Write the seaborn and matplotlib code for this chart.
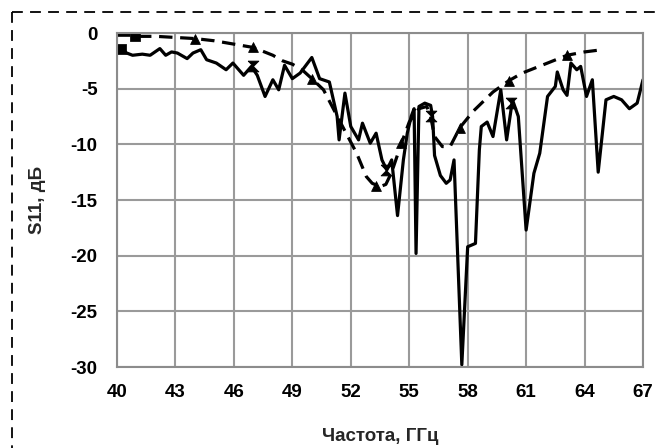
import numpy as np
import pandas as pd
import matplotlib
matplotlib.use("Agg")
import matplotlib.pyplot as plt
from matplotlib.lines import Line2D
import seaborn as sns

# measured curve (solid)
meas_freq = [40.0, 40.2, 40.5, 40.8, 41.3, 41.7, 42.2, 42.5, 42.8, 43.1, 43.6, 43.9,
             44.3, 44.6, 45.1, 45.6, 45.95, 46.5, 46.9, 47.2, 47.6, 48.0, 48.3, 48.6,
             49.0, 49.4, 50.0, 50.4, 50.9, 51.3, 51.4, 51.7, 52.0, 52.4, 52.6, 53.0,
             53.3, 53.6, 53.85, 54.1, 54.4, 54.7, 54.9, 55.1, 55.25, 55.35, 55.5, 55.8,
             56.1, 56.2, 56.3, 56.6, 56.9, 57.1, 57.3, 57.7, 58.0, 58.4, 58.6, 58.7,
             59.0, 59.3, 59.7, 60.0, 60.3, 60.6, 61.0, 61.4, 61.7, 62.1, 62.5, 62.6,
             62.9, 63.1, 63.3, 63.6, 63.8, 64.1, 64.4, 64.7, 65.1, 65.5, 65.9, 66.3,
             66.7, 67.0]
meas_s11 = [-1.5, -1.4, -1.8, -2.0, -1.9, -2.0, -1.4, -2.0, -1.7, -1.8, -2.3, -1.8,
            -1.5, -2.4, -2.7, -3.3, -2.7, -3.8, -3.0, -3.8, -5.7, -4.2, -5.1, -2.9,
            -4.1, -3.6, -2.2, -4.1, -4.4, -7.5, -9.6, -5.4, -8.4, -9.6, -8.1, -9.9,
            -9.0, -11.4, -12.3, -11.4, -16.4, -11.4, -9.0, -7.5, -6.8, -19.8, -6.6, -6.3,
            -6.5, -7.5, -11.0, -12.8, -13.5, -13.2, -11.4, -29.8, -19.2, -18.9, -10.5, -8.4,
            -8.0, -9.3, -5.1, -9.6, -6.0, -7.5, -17.7, -12.6, -10.8, -5.7, -4.8, -3.5,
            -5.1, -5.6, -2.7, -3.3, -3.0, -5.7, -4.2, -12.5, -6.0, -5.7, -6.0, -6.8,
            -6.3, -4.2]

# simulated curve (dashed)
sim_freq = [40.0, 40.7, 41.1, 42.0, 43.0, 44.0, 45.0, 46.0, 47.0, 48.0, 48.5, 49.0,
            49.5, 50.0, 50.6, 51.4, 52.3, 52.8, 53.1, 53.5, 53.8, 54.1, 54.6, 55.0,
            55.5, 55.9, 56.1, 56.3, 56.7, 57.1, 57.6, 58.3, 59.3, 60.1, 60.8, 62.1,
            63.1, 64.0, 64.9]
sim_s11 = [-0.2, -0.2, -0.3, -0.3, -0.4, -0.5, -0.7, -1.0, -1.3, -2.0, -2.5, -2.8,
           -3.3, -4.1, -5.1, -7.8, -10.8, -12.9, -13.5, -13.8, -13.6, -12.5, -9.9, -8.0,
           -6.8, -6.6, -7.5, -9.3, -10.2, -10.2, -8.5, -7.0, -5.3, -4.3, -3.6, -2.7,
           -2.0, -1.7, -1.5]

# marker positions seen on the curves
meas_sq_freq = [40.2]
meas_sq_s11 = [-1.4]
meas_hg_freq = [47.0, 53.8, 56.1, 60.2]
meas_hg_s11 = [-3.0, -12.3, -7.5, -6.3]
sim_sq_freq = [40.9]
sim_sq_s11 = [-0.25]
sim_tri_freq = [44.0, 47.0, 50.0, 53.3, 54.6, 57.6, 60.1, 63.1]
sim_tri_s11 = [-0.5, -1.3, -4.1, -13.7, -9.9, -8.5, -4.3, -2.0]

x_ticks = [40, 43, 46, 49, 52, 55, 58, 61, 64, 67]
y_ticks = [0, -5, -10, -15, -20, -25, -30]

sns.set_theme(style="whitegrid")
plt.rcParams["font.family"] = ["Liberation Sans", "DejaVu Sans"]
plt.rcParams["font.weight"] = "bold"

fig = plt.figure(figsize=(6.59, 4.48), dpi=100)
ax = fig.add_axes([117 / 659, 1 - 367 / 448, (643 - 117) / 659, (367 - 33) / 448])

meas = pd.DataFrame({"freq": meas_freq, "s11": meas_s11})
sim = pd.DataFrame({"freq": sim_freq, "s11": sim_s11})

sns.lineplot(data=sim, x="freq", y="s11", ax=ax, sort=False, color="black",
             linewidth=2.3, dashes=False, linestyle=(0, (4.2, 2.4)))
sns.lineplot(data=meas, x="freq", y="s11", ax=ax, sort=False, color="black",
             linewidth=2.3)

hourglass = [(-1, 1), (1, 1), (-1, -1), (1, -1), (-1, 1)]
sns.scatterplot(x=meas_sq_freq, y=meas_sq_s11, ax=ax, marker="s", s=45, color="black",
                edgecolor="black")
sns.scatterplot(x=sim_sq_freq, y=sim_sq_s11, ax=ax, marker="s", s=45, color="black",
                edgecolor="black")
sns.scatterplot(x=meas_hg_freq, y=meas_hg_s11, ax=ax, marker=hourglass, s=60,
                color="black", edgecolor="black")
sns.scatterplot(x=sim_tri_freq, y=sim_tri_s11, ax=ax, marker="^", s=50, color="black",
                edgecolor="black")

ax.set_xlim(40, 67)
ax.set_ylim(-30, 0)
ax.set_xticks(x_ticks)
ax.set_yticks(y_ticks)
ax.set_xticklabels([str(t) for t in x_ticks], fontweight="bold")
ax.set_yticklabels([str(t) for t in y_ticks], fontweight="bold")
ax.tick_params(axis="both", length=0, labelsize=13.5, colors="black")
ax.tick_params(axis="x", pad=12)
ax.tick_params(axis="y", pad=14)
ax.grid(True, color="#9a9a9a", linewidth=1.5)
ax.set_facecolor("white")
for sp in ax.spines.values():
    sp.set_color("#8c8c8c")
    sp.set_linewidth(1.5)

ax.set_xlabel("Частота, ГГц", fontsize=13.5, fontweight="bold", labelpad=20)
ax.set_ylabel("S11, дБ", fontsize=13.5, fontweight="bold", labelpad=18)

# dashed frame around the figure
fig.add_artist(Line2D([12 / 659, 1.0], [1 - 12 / 448, 1 - 12 / 448],
                      transform=fig.transFigure, color="black", linewidth=1.3,
                      linestyle=(0, (6, 4))))
fig.add_artist(Line2D([12 / 659, 12 / 659], [1 - 12 / 448, 0.0],
                      transform=fig.transFigure, color="black", linewidth=1.3,
                      linestyle=(0, (6, 4))))

fig.savefig("out.png", dpi=100)
